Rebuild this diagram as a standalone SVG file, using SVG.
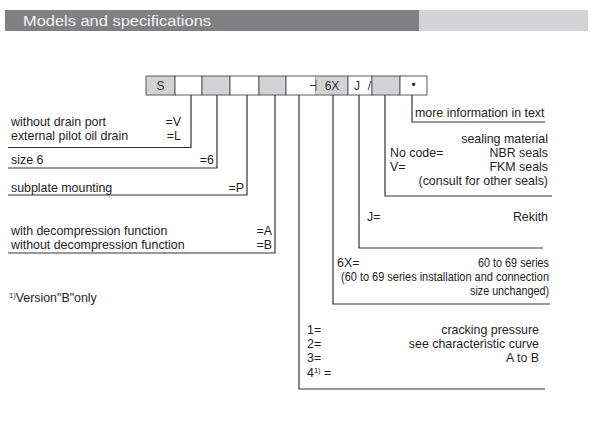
<svg xmlns="http://www.w3.org/2000/svg" width="597" height="443" viewBox="0 0 597 443">
<style>
.t{font-family:"Liberation Sans",Arial,sans-serif;font-size:12.4px;fill:#1e1e1e}
.e{text-anchor:end}
.g{fill:#d2d2d4;stroke:#5a5a5a;stroke-width:1}
.w{fill:#ffffff;stroke:#5a5a5a;stroke-width:1}
.bx{font-family:"Liberation Sans",Arial,sans-serif;font-size:12px;fill:#333;text-anchor:middle}
.c{fill:none;stroke:#333;stroke-width:1.2}
.sup{font-size:7.5px}
</style>
<rect width="597" height="443" fill="#ffffff"/>
<g id="header">
<rect x="5" y="10" width="414" height="21" fill="#808082"/>
<rect x="419" y="10" width="169" height="21" fill="#d3d3d5"/>
<text x="23" y="26" font-family="&quot;Liberation Sans&quot;,Arial,sans-serif" font-size="15.5" fill="#f4f4f4" textLength="188" lengthAdjust="spacingAndGlyphs">Models and specifications</text>
</g>
<g id="code">
<rect class="g" x="146" y="76" width="29" height="19"/>
<rect class="w" x="175" y="76" width="27" height="19"/>
<rect class="g" x="202" y="76" width="28" height="19"/>
<rect class="w" x="230" y="76" width="29" height="19"/>
<rect class="g" x="259" y="76" width="27" height="19"/>
<rect class="w" x="286" y="76" width="30" height="19"/>
<rect x="316" y="76" width="32" height="19" fill="#d2d2d4"/>
<path d="M316 76H348V95H316" fill="none" stroke="#5a5a5a" stroke-width="1"/>
<line x1="316" y1="80" x2="316" y2="91" stroke="#5a5a5a" stroke-width="1"/>
<line x1="310" y1="85.5" x2="316" y2="85.5" stroke="#333" stroke-width="1"/>
<rect class="w" x="348" y="76" width="24" height="19"/>
<rect class="g" x="372" y="76" width="28" height="19"/>
<rect class="w" x="400" y="76" width="27" height="19"/>
<text class="bx" x="160.5" y="90">S</text>
<text class="bx" x="332" y="90">6X</text>
<text class="bx" x="357" y="90">J</text>
<text class="bx" x="369.5" y="90">/</text>
<text class="bx" x="413.5" y="89">•</text>
</g>
<g id="connectors">
<path class="c" d="M191 95V147.5H8"/>
<path class="c" d="M217 95V168H8"/>
<path class="c" d="M247 95V195H8"/>
<path class="c" d="M275 95V253H8"/>
<path class="c" d="M299 95V389H545"/>
<path class="c" d="M333 95V304H550"/>
<path class="c" d="M359 95V248H543"/>
<path class="c" d="M385 95V196H552"/>
<path class="c" d="M412 95V122H545"/>
</g>
<g id="drain">
<text class="t" x="11" y="126">without drain port</text>
<text class="t e" x="181" y="126">=V</text>
<text class="t" x="11" y="140">external pilot oil drain</text>
<text class="t e" x="181" y="140">=L</text>
</g>
<g id="size">
<text class="t" x="11" y="164">size 6</text>
<text class="t e" x="214" y="164">=6</text>
</g>
<g id="mounting">
<text class="t" x="11" y="192">subplate mounting</text>
<text class="t e" x="244" y="192">=P</text>
</g>
<g id="decompression">
<text class="t" x="11" y="235">with decompression function</text>
<text class="t e" x="272" y="235">=A</text>
<text class="t" x="11" y="249">without decompression function</text>
<text class="t e" x="272" y="249">=B</text>
</g>
<g id="note">
<text class="t" x="9" y="302"><tspan class="sup" dy="-4">1)</tspan><tspan dy="4">Version"B"only</tspan></text>
</g>
<g id="more">
<text class="t" x="415" y="117">more information in text</text>
</g>
<g id="seals">
<text class="t e" x="548" y="143">sealing material</text>
<text class="t" x="390" y="157">No code=</text>
<text class="t e" x="548" y="157">NBR seals</text>
<text class="t" x="390" y="171">V=</text>
<text class="t e" x="548" y="171">FKM seals</text>
<text class="t e" x="548" y="185">(consult for other seals)</text>
</g>
<g id="rekith">
<text class="t" x="367" y="221">J=</text>
<text class="t e" x="548" y="221">Rekith</text>
</g>
<g id="series">
<text class="t" x="337" y="267">6X=</text>
<text class="t" x="478" y="267" textLength="71" lengthAdjust="spacingAndGlyphs">60 to 69 series</text>
<text class="t" x="341" y="281" textLength="208" lengthAdjust="spacingAndGlyphs">(60 to 69 series installation and connection</text>
<text class="t" x="470" y="295" textLength="79" lengthAdjust="spacingAndGlyphs">size unchanged)</text>
</g>
<g id="pressure">
<text class="t" x="307" y="334">1=</text>
<text class="t e" x="539" y="334">cracking pressure</text>
<text class="t" x="307" y="348">2=</text>
<text class="t e" x="539" y="348">see characteristic curve</text>
<text class="t" x="307" y="362">3=</text>
<text class="t e" x="539" y="362">A to B</text>
<text class="t" x="307" y="377">4<tspan class="sup" dy="-4">1)</tspan><tspan dy="4"> =</tspan></text>
</g>
</svg>
